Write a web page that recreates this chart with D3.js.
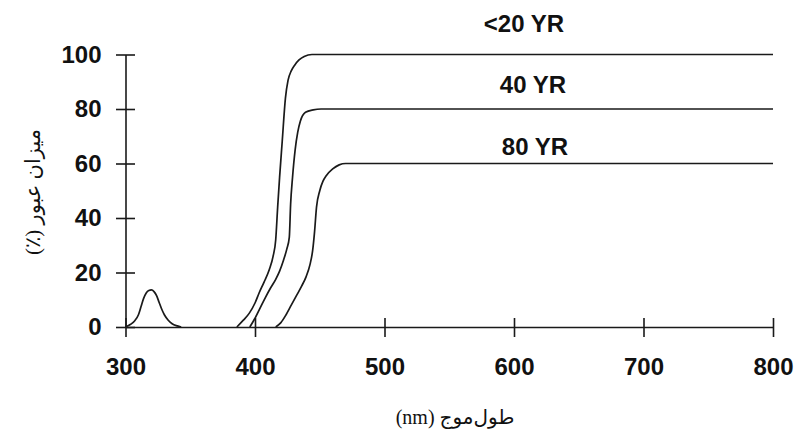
<!DOCTYPE html>
<html>
<head>
<meta charset="utf-8">
<script src="https://cdn.jsdelivr.net/npm/d3@7"></script>
<style>
  html, body { margin: 0; padding: 0; background: #fff; }
  svg { display: block; }
</style>
</head>
<body>
<svg id="chart" width="795" height="435"></svg>
<script>
// ---- data ----
const xTicks = [300, 400, 500, 600, 700, 800];
const yTicks = [0, 20, 40, 60, 80, 100];
const seriesLabels = ["<20 YR", "40 YR", "80 YR"];
// [wavelength nm, transmission %]
const uvBump = [[300,0],[304,1],[307,2.2],[310,4.5],[312,7.5],[314,10.5],[316,12.5],[318,13.4],[320,13.6],[322,13],[324,11.5],[326,9],[328,6.5],[330,4.5],[333,2.5],[336,1.2],[340,0.4],[343,0]];
const yr20 = [[386,0],[391,2.5],[395.5,5],[400,8.8],[403,12.3],[407,16.5],[411,21],[414,26],[416,32],[417.5,44],[419,55],[421,68],[423.5,84],[425.5,90.5],[428,94],[430.5,96],[434,98],[438,99.3],[444,100],[800,100]];
const yr40 = [[396,0],[400,3.2],[404,7],[408,10.8],[412,14.3],[416,17.5],[419,20.5],[422,24.5],[424.5,28.5],[426.5,33],[427.5,45],[429,55],[431,65],[433,71.5],[435,75.5],[439,78.8],[445,79.7],[451,80],[800,80]];
const yr80 = [[416,0],[420,1.6],[424,4.5],[428,8],[432,11.5],[436,15],[439.5,18.5],[442.5,23],[444.5,28],[446,35],[447.5,44],[450,50],[452.5,53.5],[455,55.5],[460,58],[465,59.5],[470,60],[800,60]];
const xTitle = "طول\u200cموج (nm)";
const yTitle = "میزان عبور (٪)";

// ---- chart ----
const svg = d3.select("#chart");
const x = d3.scaleLinear().domain([300, 800]).range([125.5, 773]);
const y = d3.scaleLinear().domain([0, 100]).range([327, 54.5]);
const ink = "#1a1a1a";

// x axis
const gx = svg.append("g").attr("transform", `translate(0,${y(0)})`)
  .call(d3.axisBottom(x).tickValues(xTicks).tickSize(0).tickPadding(31).tickFormat(d3.format("d")));
gx.select(".domain").attr("stroke", ink).attr("stroke-width", 1.6);
gx.selectAll(".tick line").attr("y1", -9).attr("y2", 10).attr("stroke", ink).attr("stroke-width", 1.6);
gx.selectAll(".tick text").attr("fill", "#111")
  .style("font-family", "'Liberation Sans', Arial, sans-serif").style("font-weight", "bold").style("font-size", "24px");

// y axis
const gy = svg.append("g").attr("transform", `translate(${x(300)},0)`)
  .call(d3.axisLeft(y).tickValues(yTicks).tickSize(0).tickPadding(24).tickFormat(d3.format("d")));
gy.select(".domain").attr("stroke", ink).attr("stroke-width", 1.6);
gy.selectAll(".tick line").attr("x1", -9.5).attr("x2", 9.5).attr("stroke", ink).attr("stroke-width", 1.6);
gy.selectAll(".tick text").attr("fill", "#111")
  .style("font-family", "'Liberation Sans', Arial, sans-serif").style("font-weight", "bold").style("font-size", "24px");

// curves
const line = d3.line().x(d => x(d[0])).y(d => y(d[1])).curve(d3.curveMonotoneX);
[uvBump, yr20, yr40, yr80].forEach(s => {
  svg.append("path").datum(s).attr("d", line)
    .attr("fill", "none").attr("stroke", ink).attr("stroke-width", 1.7);
});

// series labels
const labelPos = [[524, 31.5], [533, 93], [535, 155]];
seriesLabels.forEach((t, i) => {
  svg.append("text").attr("x", labelPos[i][0]).attr("y", labelPos[i][1])
    .attr("text-anchor", "middle").attr("fill", "#111")
    .style("font-family", "'Liberation Sans', Arial, sans-serif").style("font-weight", "bold").style("font-size", "24px")
    .text(t);
});

// axis titles
svg.append("text").attr("x", 455).attr("y", 424).attr("text-anchor", "middle")
  .attr("direction", "rtl").attr("fill", "#111")
  .style("font-family", "'Liberation Serif', 'DejaVu Serif', 'DejaVu Sans', serif").style("font-size", "20px")
  .text(xTitle);
svg.append("text").attr("transform", "translate(40,192) rotate(-90)").attr("text-anchor", "middle")
  .attr("direction", "rtl").attr("fill", "#111")
  .style("font-family", "'Liberation Serif', 'DejaVu Serif', 'DejaVu Sans', serif").style("font-size", "21px")
  .text(yTitle);
</script>
</body>
</html>
